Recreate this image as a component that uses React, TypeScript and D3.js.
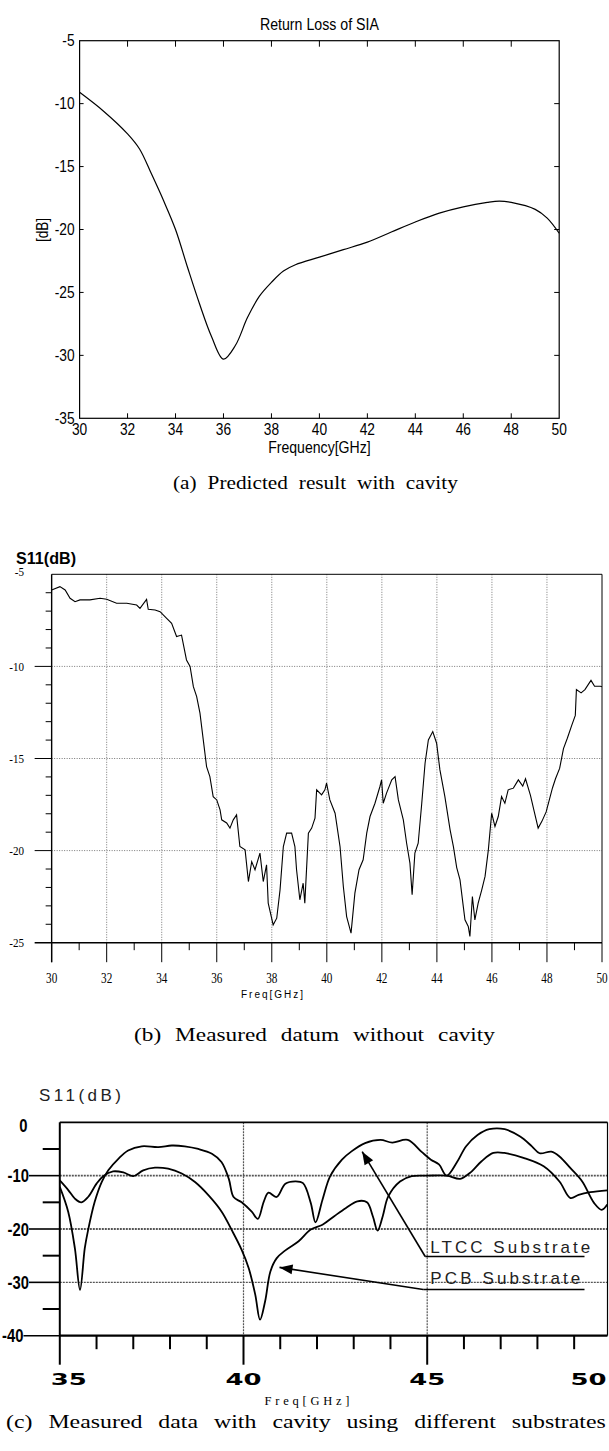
import React, { useEffect, useRef } from "react";
import * as d3 from "d3";

// ---------------- Panel (a): predicted result ----------------
const aTitle = "Return Loss of SIA";
const aXLabel = "Frequency[GHz]";
const aYLabel = "[dB]";
const aCaption = "(a) Predicted result with cavity";
const aXTicks = [30, 32, 34, 36, 38, 40, 42, 44, 46, 48, 50];
const aYTicks = [-5, -10, -15, -20, -25, -30, -35];
const aFreq = [30, 31, 32, 32.5, 33, 33.5, 34, 34.5, 35, 35.5, 36, 36.5, 37, 37.5, 38, 38.5, 39, 40, 41, 42, 43, 44, 45, 46, 47, 47.5, 48, 49, 49.5, 50];
const aDb = [-9.1, -10.6, -12.4, -13.6, -15.6, -17.7, -20.0, -23.0, -25.9, -28.5, -30.3, -29.2, -27.0, -25.3, -24.2, -23.3, -22.8, -22.2, -21.6, -21.0, -20.2, -19.4, -18.7, -18.2, -17.85, -17.75, -17.85, -18.4, -19.1, -20.3];

// ---------------- Panel (b): measured without cavity ----------------
const bYTitle = "S11(dB)";
const bXLabel = "Freq[GHz]";
const bCaption = "(b) Measured datum without cavity";
const bXTicks = [30, 32, 34, 36, 38, 40, 42, 44, 46, 48, 50];
const bXMinor = [31, 33, 35, 37, 39, 41, 43, 45, 47, 49];
const bYTicks = [-5, -10, -15, -20, -25];
const bYMinor = [-6, -7, -8, -9, -11, -12, -13, -14, -16, -17, -18, -19, -21, -22, -23, -24];
const bFreq = [30.0, 30.3, 30.49, 30.67, 30.85, 31.03, 31.39, 31.76, 32.0, 32.36, 32.73, 33.09, 33.21, 33.45, 33.51, 33.76, 33.94, 34.18, 34.36, 34.54, 34.72, 34.9, 35.03, 35.15, 35.27, 35.39, 35.51, 35.63, 35.75, 35.87, 36.0, 36.12, 36.18, 36.36, 36.48, 36.6, 36.72, 36.84, 37.03, 37.15, 37.27, 37.39, 37.57, 37.69, 37.81, 37.87, 38.05, 38.18, 38.3, 38.42, 38.54, 38.72, 38.84, 38.9, 39.02, 39.14, 39.2, 39.33, 39.45, 39.57, 39.63, 39.81, 39.93, 39.99, 40.11, 40.3, 40.48, 40.6, 40.72, 40.88, 41.02, 41.17, 41.32, 41.45, 41.57, 41.75, 41.93, 41.99, 42.05, 42.17, 42.36, 42.48, 42.6, 42.78, 42.9, 43.02, 43.1, 43.2, 43.32, 43.45, 43.57, 43.69, 43.85, 43.99, 44.11, 44.29, 44.48, 44.6, 44.72, 44.84, 44.96, 45.02, 45.14, 45.2, 45.29, 45.38, 45.5, 45.63, 45.75, 45.87, 45.99, 46.11, 46.23, 46.35, 46.47, 46.59, 46.78, 46.96, 47.12, 47.22, 47.4, 47.54, 47.68, 47.82, 47.97, 48.1, 48.2, 48.31, 48.46, 48.6, 48.74, 48.9, 49.03, 49.07, 49.24, 49.38, 49.6, 49.73, 49.94, 50.0];
const bDb = [-5.85, -5.67, -5.85, -6.3, -6.49, -6.39, -6.39, -6.3, -6.35, -6.57, -6.57, -6.67, -6.85, -6.36, -6.9, -6.94, -7.03, -7.39, -7.66, -8.38, -8.3, -9.65, -10.0, -11.1, -11.64, -12.54, -13.99, -15.44, -15.98, -17.07, -17.25, -17.79, -18.33, -18.5, -18.78, -18.33, -18.06, -19.78, -19.96, -21.68, -20.6, -21.04, -20.14, -21.68, -20.77, -22.85, -24.03, -23.67, -22.13, -19.78, -19.05, -19.05, -19.78, -21.04, -22.67, -21.77, -22.85, -19.05, -18.78, -18.24, -16.7, -16.97, -16.7, -16.34, -17.25, -17.97, -19.78, -21.95, -23.58, -24.48, -22.31, -21.04, -20.5, -19.05, -18.15, -17.43, -16.52, -16.16, -17.43, -16.88, -16.16, -15.98, -17.25, -18.33, -19.6, -20.68, -22.4, -20.14, -19.6, -17.43, -15.26, -13.99, -13.54, -14.17, -15.62, -17.07, -18.87, -19.78, -20.92, -21.59, -23.04, -23.76, -24.12, -24.66, -22.49, -23.76, -22.85, -22.13, -21.4, -19.96, -17.97, -18.69, -18.15, -17.07, -17.43, -16.7, -16.61, -16.16, -16.5, -16.1, -17.0, -17.9, -18.78, -18.4, -17.9, -17.16, -16.6, -16.1, -15.54, -14.46, -13.9, -13.2, -12.66, -11.26, -11.44, -11.26, -10.76, -11.08, -11.08, -11.1];

// ---------------- Panel (c): measured with cavity ----------------
const cYTitle = "S11(dB)";
const cXLabel = "Freq[GHz]";
const cCaption = "(c) Measured data with cavity using different substrates";
const cXTicks = [35, 40, 45, 50];
const cXMinor = [36, 37, 38, 39, 41, 42, 43, 44, 46, 47, 48, 49];
const cYTicks = [0, -10, -20, -30, -40];
const cYMinor = [-5, -15, -25, -35];
const cSeriesNames = ["LTCC Substrate", "PCB Substrate"];
const ltccFreq = [35.0, 35.23, 35.41, 35.55, 35.68, 35.77, 35.95, 36.14, 36.32, 36.6, 36.86, 37.23, 37.68, 38.05, 38.4, 38.77, 39.14, 39.4, 39.6, 39.73, 39.95, 40.23, 40.39, 40.55, 40.68, 40.9, 41.14, 41.41, 41.62, 41.83, 41.96, 42.15, 42.36, 42.68, 42.94, 43.31, 43.73, 44.05, 44.47, 44.84, 45.1, 45.32, 45.53, 45.8, 46.06, 46.37, 46.69, 47.11, 47.53, 47.85, 48.06, 48.38, 48.6, 48.9, 49.22, 49.54, 49.75, 49.9];
const ltccDb = [-12.1, -16.8, -23.6, -31.4, -23.6, -20.2, -14.9, -11.2, -9.0, -6.8, -5.3, -4.5, -4.66, -4.35, -4.5, -5.0, -5.9, -7.45, -10.6, -14.0, -15.0, -16.8, -18.1, -14.9, -13.2, -14.0, -11.5, -11.06, -11.4, -15.1, -18.75, -14.5, -10.1, -7.0, -5.45, -3.9, -3.3, -3.8, -3.3, -5.5, -7.0, -7.9, -10.0, -7.6, -4.5, -2.4, -1.3, -1.3, -2.67, -4.5, -5.8, -5.5, -6.4, -8.6, -11.1, -15.1, -16.4, -15.4];
const pcbFreq = [35.0, 35.23, 35.41, 35.59, 35.77, 36.0, 36.18, 36.45, 36.73, 37.0, 37.27, 37.59, 37.95, 38.32, 38.68, 39.05, 39.41, 39.68, 39.95, 40.14, 40.32, 40.45, 40.59, 40.73, 40.9, 41.14, 41.5, 41.83, 42.15, 42.47, 42.78, 43.1, 43.36, 43.52, 43.65, 43.79, 43.94, 44.26, 44.58, 45.0, 45.53, 45.9, 46.16, 46.48, 46.8, 47.1, 47.64, 48.17, 48.6, 48.9, 49.12, 49.44, 49.9];
const pcbDb = [-10.9, -12.7, -14.3, -15.0, -14.0, -11.5, -10.1, -9.2, -9.4, -10.1, -9.0, -8.5, -8.7, -9.6, -11.2, -13.7, -16.8, -20.2, -23.9, -27.3, -32.3, -37.0, -33.5, -28.0, -25.5, -24.0, -22.3, -20.1, -19.2, -17.6, -16.1, -14.8, -15.0, -17.6, -20.3, -17.6, -13.9, -11.1, -10.1, -10.0, -10.0, -10.6, -9.5, -7.3, -5.75, -5.75, -6.7, -8.25, -11.1, -14.2, -13.6, -13.1, -12.75];
// arrow targets (freq, dB) for the two annotations
const ltccArrowTip = [43.23, -5.5];
const pcbArrowTip = [40.98, -27.2];

const W = 609;
const H = 1451;
const SANS = "'Liberation Sans', Arial, sans-serif";
const SERIF = "'Liberation Serif', 'Times New Roman', serif";
const BOLDWIDE = "'DejaVu Sans', sans-serif";

type Sel = d3.Selection<any, any, any, any>;

function txt(g: Sel, x: number, y: number, s: string, o: any = {}) {
  const t = g
    .append("text")
    .attr("transform", `translate(${x},${y}) rotate(${o.rot || 0}) scale(${o.sx || 1},1)`)
    .attr("x", 0)
    .attr("y", 0)
    .attr("text-anchor", o.anchor || "start")
    .attr("font-family", o.family || SANS)
    .attr("font-size", o.size || 12)
    .attr("font-weight", o.weight || "normal")
    .attr("fill", o.fill || "#000")
    .text(s);
  if (o.dy) t.attr("dy", o.dy);
  if (o.len) t.attr("textLength", o.len).attr("lengthAdjust", o.adjust || "spacing");
  return t;
}

// caption: letters widened horizontally, word gaps sized to fill the measured span
function caption(g: Sel, left: number, right: number, y: number, s: string, gap: number, size: number) {
  const t = g
    .append("text")
    .attr("x", 0)
    .attr("y", 0)
    .attr("font-family", SERIF)
    .attr("font-size", size)
    .attr("fill", "#000")
    .text(s);
  const node = t.node() as SVGTextElement;
  const L = node.getComputedTextLength();
  const n = (s.match(/ /g) || []).length;
  const spaceW = 0.25 * size;
  const letters = L - n * spaceW;
  const target = right - left;
  const sx = (target - n * gap) / letters;
  const ws = gap / sx - spaceW;
  t.attr("word-spacing", ws).attr("transform", `translate(${left},${y}) scale(${sx},1)`);
}

function drawA(svg: Sel) {
  const g = svg.append("g");
  const x = d3.scaleLinear().domain([30, 50]).range([79.6, 559.2]);
  const y = d3.scaleLinear().domain([-35, -5]).range([418.3, 40.7]);
  const sx = 0.86;
  g.append("rect")
    .attr("x", x(30)).attr("y", y(-5))
    .attr("width", x(50) - x(30)).attr("height", y(-35) - y(-5))
    .attr("fill", "none").attr("stroke", "#000").attr("stroke-width", 1.2);
  aXTicks.slice(1, -1).forEach((v) => {
    g.append("line").attr("x1", x(v)).attr("x2", x(v)).attr("y1", y(-5)).attr("y2", y(-5) + 6).attr("stroke", "#000");
    g.append("line").attr("x1", x(v)).attr("x2", x(v)).attr("y1", y(-35)).attr("y2", y(-35) - 5).attr("stroke", "#000");
  });
  aYTicks.slice(1, -1).forEach((v) => {
    g.append("line").attr("x1", x(30)).attr("x2", x(30) + 4).attr("y1", y(v)).attr("y2", y(v)).attr("stroke", "#000");
    g.append("line").attr("x1", x(50)).attr("x2", x(50) - 5).attr("y1", y(v)).attr("y2", y(v)).attr("stroke", "#000");
  });
  aYTicks.forEach((v) => txt(g, x(30) - 5, y(v), String(v), { anchor: "end", size: 16, sx, dy: "0.36em" }));
  aXTicks.forEach((v) => txt(g, x(v), 435, String(v), { anchor: "middle", size: 16, sx }));
  txt(g, (x(30) + x(50)) / 2, 453, aXLabel, { anchor: "middle", size: 16, sx: 0.88 });
  txt(g, (x(30) + x(50)) / 2, 30, aTitle, { anchor: "middle", size: 16.5, sx: 0.86 });
  txt(g, 48, 230, aYLabel, { anchor: "middle", size: 16, sx: 0.85, rot: -90 });
  const line = d3.line<number>().x((d, i) => x(aFreq[i])).y((d) => y(d)).curve(d3.curveCatmullRom.alpha(0.5));
  g.append("path").attr("d", line(aDb) as string).attr("fill", "none").attr("stroke", "#000").attr("stroke-width", 1.2);
  caption(g, 173, 458, 489, aCaption, 11, 18);
}

function drawB(svg: Sel) {
  const g = svg.append("g");
  const x = d3.scaleLinear().domain([30, 50]).range([51.65, 602]);
  const y = d3.scaleLinear().domain([-25, -5]).range([942.7, 574.3]);
  bXTicks.slice(1, -1).forEach((v) => {
    g.append("line").attr("x1", x(v)).attr("x2", x(v)).attr("y1", y(-5)).attr("y2", y(-25))
      .attr("stroke", "#777").attr("stroke-dasharray", "1,1.5");
  });
  bYTicks.slice(1, -1).forEach((v) => {
    g.append("line").attr("x1", x(30)).attr("x2", x(50)).attr("y1", y(v)).attr("y2", y(v))
      .attr("stroke", "#777").attr("stroke-dasharray", "1,1.5");
  });
  g.append("line").attr("x1", x(30)).attr("x2", x(50)).attr("y1", y(-5)).attr("y2", y(-5)).attr("stroke", "#000");
  g.append("line").attr("x1", x(50)).attr("x2", x(50)).attr("y1", y(-5)).attr("y2", y(-25)).attr("stroke", "#000");
  g.append("line").attr("x1", x(30)).attr("x2", x(30)).attr("y1", y(-5)).attr("y2", y(-25) + 19.5).attr("stroke", "#000").attr("stroke-width", 1.4);
  g.append("line").attr("x1", x(30) - 17).attr("x2", x(50)).attr("y1", y(-25)).attr("y2", y(-25)).attr("stroke", "#000").attr("stroke-width", 1.4);
  bYTicks.slice(1, -1).forEach((v) => {
    g.append("line").attr("x1", x(30) - 17).attr("x2", x(30)).attr("y1", y(v)).attr("y2", y(v)).attr("stroke", "#000");
  });
  bYMinor.forEach((v) => {
    g.append("line").attr("x1", x(30) - 6).attr("x2", x(30)).attr("y1", y(v)).attr("y2", y(v)).attr("stroke", "#000");
  });
  bXTicks.forEach((v) => {
    g.append("line").attr("x1", x(v)).attr("x2", x(v)).attr("y1", y(-25)).attr("y2", y(-25) + 19.5).attr("stroke", "#000");
  });
  bXMinor.forEach((v) => {
    g.append("line").attr("x1", x(v)).attr("x2", x(v)).attr("y1", y(-25)).attr("y2", y(-25) + 7.5).attr("stroke", "#000");
  });
  bYTicks.forEach((v) => {
    const yy = v === -5 ? y(v) - 3 : y(v);
    txt(g, 24, yy, String(v), { anchor: "end", family: SERIF, size: 13, dy: "0.35em", sx: 0.85 });
  });
  bXTicks.forEach((v) => txt(g, x(v), 983, String(v), { anchor: "middle", family: SERIF, size: 14, sx: 0.8 }));
  txt(g, 272, 998, bXLabel, { anchor: "middle", size: 10, len: 62 });
  txt(g, 16, 564, bYTitle, { size: 16, weight: "bold", len: 60, adjust: "spacingAndGlyphs" });
  const line = d3.line<number>().x((d, i) => x(bFreq[i])).y((d) => y(d));
  g.append("path").attr("d", line(bDb) as string).attr("fill", "none").attr("stroke", "#000").attr("stroke-width", 1.1);
  caption(g, 134, 495, 1041, bCaption, 14, 18);
}

function arrow(g: Sel, x1: number, y1: number, x2: number, y2: number) {
  g.append("line").attr("x1", x1).attr("y1", y1).attr("x2", x2).attr("y2", y2).attr("stroke", "#000").attr("stroke-width", 1.6);
  const ang = Math.atan2(y2 - y1, x2 - x1);
  const L = 13, Wd = 5;
  const bx = x2 - L * Math.cos(ang), by = y2 - L * Math.sin(ang);
  const px = -Math.sin(ang) * Wd, py = Math.cos(ang) * Wd;
  g.append("polygon")
    .attr("points", `${x2},${y2} ${bx + px},${by + py} ${bx - px},${by - py}`)
    .attr("fill", "#000");
}

function drawC(svg: Sel) {
  const g = svg.append("g");
  const x = d3.scaleLinear().domain([35, 50]).range([59.8, 610.9]);
  const y = d3.scaleLinear().domain([-40, 0]).range([1335.7, 1122.3]);
  const right = W - 1.5;
  cYTicks.slice(1, -1).forEach((v) => {
    g.append("line").attr("x1", x(35)).attr("x2", right).attr("y1", y(v)).attr("y2", y(v))
      .attr("stroke", "#555").attr("stroke-width", v === -30 ? 1.2 : 1.8).attr("stroke-dasharray", "2,1");
  });
  [40, 45].forEach((v) => {
    g.append("line").attr("x1", x(v)).attr("x2", x(v)).attr("y1", y(0)).attr("y2", y(-40))
      .attr("stroke", "#555").attr("stroke-width", 1.2).attr("stroke-dasharray", "2,1");
  });
  g.append("line").attr("x1", x(35)).attr("x2", right).attr("y1", y(0)).attr("y2", y(0)).attr("stroke", "#000").attr("stroke-width", 1.8);
  g.append("line").attr("x1", right).attr("x2", right).attr("y1", y(0)).attr("y2", y(-40)).attr("stroke", "#000").attr("stroke-width", 1.2);
  g.append("line").attr("x1", x(35)).attr("x2", x(35)).attr("y1", y(0)).attr("y2", y(-40) + 29).attr("stroke", "#000").attr("stroke-width", 2);
  g.append("line").attr("x1", x(35)).attr("x2", right).attr("y1", y(-40)).attr("y2", y(-40)).attr("stroke", "#000").attr("stroke-width", 2.2);
  const labelEnd = (v: number) => (v === -40 ? 23.5 : v === 0 ? 27.5 : 29);
  cYTicks.forEach((v) => {
    if (v === 0) return;
    g.append("line").attr("x1", labelEnd(v)).attr("x2", x(35)).attr("y1", y(v)).attr("y2", y(v)).attr("stroke", "#000").attr("stroke-width", 1.6);
  });
  cYMinor.forEach((v) => {
    g.append("line").attr("x1", 42.7).attr("x2", x(35)).attr("y1", y(v)).attr("y2", y(v)).attr("stroke", "#000").attr("stroke-width", 2);
  });
  [40, 45].forEach((v) => {
    g.append("line").attr("x1", x(v)).attr("x2", x(v)).attr("y1", y(-40)).attr("y2", y(-40) + 29).attr("stroke", "#000").attr("stroke-width", 2);
  });
  cXMinor.forEach((v) => {
    g.append("line").attr("x1", x(v)).attr("x2", x(v)).attr("y1", y(-40)).attr("y2", y(-40) + 13.5).attr("stroke", "#000").attr("stroke-width", 2);
  });
  cYTicks.forEach((v) => {
    const yy = v === 0 ? y(v) + 3.5 : y(v);
    txt(g, labelEnd(v), yy, String(v), { anchor: "end", size: 18.5, weight: "bold", dy: "0.36em", sx: 0.8 });
  });
  cXTicks.forEach((v, i) => {
    const anchor = i === 0 ? "start" : i === cXTicks.length - 1 ? "end" : "middle";
    const xx = i === 0 ? x(v) - 9 : i === cXTicks.length - 1 ? right - 1 : x(v);
    txt(g, xx, 1385, String(v), { anchor, family: BOLDWIDE, size: 16, weight: "bold", len: 36, adjust: "spacingAndGlyphs" });
  });
  txt(g, 307, 1405, cXLabel, { anchor: "middle", family: SERIF, size: 12.5, len: 85 });
  txt(g, 39, 1101, cYTitle, { size: 17, len: 82, fill: "#222" });
  const clipId = "clipC";
  svg.append("defs").append("clipPath").attr("id", clipId).append("rect")
    .attr("x", x(35)).attr("y", y(0) - 2).attr("width", right - x(35)).attr("height", y(-40) - y(0) + 4);
  const cg = g.append("g").attr("clip-path", `url(#${clipId})`);
  const lineL = d3.line<number>().x((d, i) => x(ltccFreq[i])).y((d) => y(d)).curve(d3.curveCatmullRom.alpha(0.5));
  const lineP = d3.line<number>().x((d, i) => x(pcbFreq[i])).y((d) => y(d)).curve(d3.curveCatmullRom.alpha(0.5));
  cg.append("path").attr("d", lineL(ltccDb) as string).attr("fill", "none").attr("stroke", "#000").attr("stroke-width", 1.8);
  cg.append("path").attr("d", lineP(pcbDb) as string).attr("fill", "none").attr("stroke", "#000").attr("stroke-width", 1.8);
  const lx0 = x(45) - 2;
  const lx1 = 584.5;
  txt(g, 430.3, 1253, cSeriesNames[0], { size: 17, len: 160, fill: "#222" });
  g.append("line").attr("x1", lx0).attr("x2", lx1).attr("y1", 1256.5).attr("y2", 1256.5).attr("stroke", "#000").attr("stroke-width", 1.4);
  arrow(g, lx0, 1256.5, x(ltccArrowTip[0]), y(ltccArrowTip[1]));
  txt(g, 430.3, 1283.5, cSeriesNames[1], { size: 17, len: 150, fill: "#222" });
  g.append("line").attr("x1", lx0 - 2).attr("x2", lx1).attr("y1", 1289.5).attr("y2", 1289.5).attr("stroke", "#000").attr("stroke-width", 1.4);
  arrow(g, lx0 - 2, 1289.5, x(pcbArrowTip[0]), y(pcbArrowTip[1]));
  caption(g, 6, 606, 1428, cCaption, 16, 18);
}

export default function App() {
  const ref = useRef<SVGSVGElement>(null);
  useEffect(() => {
    document.body.style.margin = "0";
    const svg = d3.select(ref.current);
    svg.selectAll("*").remove();
    svg.append("rect").attr("width", W).attr("height", H).attr("fill", "#fff");
    drawA(svg);
    drawB(svg);
    drawC(svg);
  }, []);
  return <svg ref={ref} width={W} height={H} style={{ display: "block" }} />;
}
